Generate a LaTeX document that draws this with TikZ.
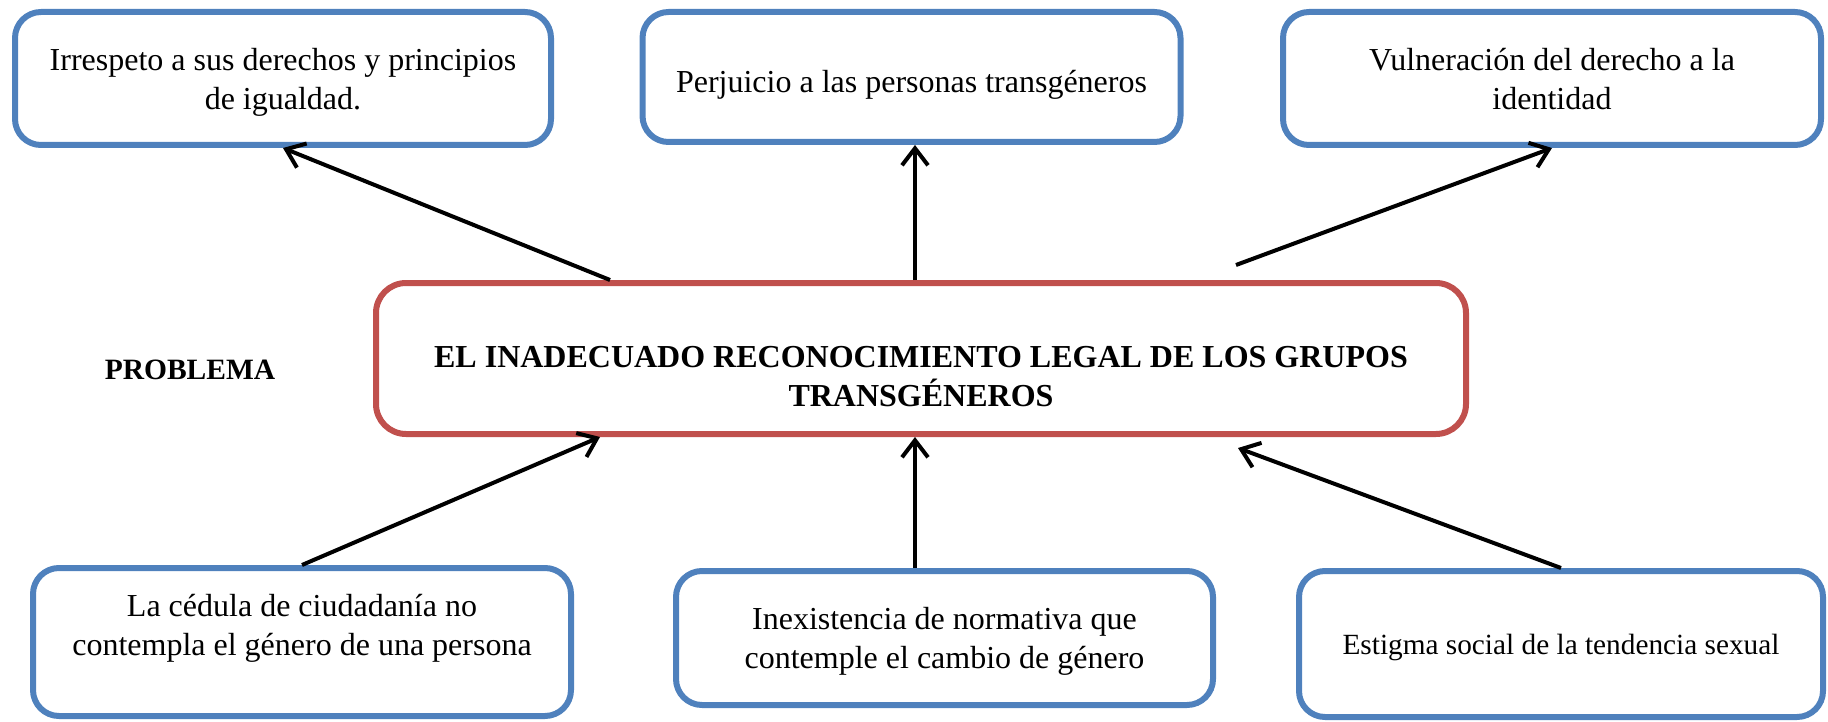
\documentclass[tikz,border=0pt]{standalone}
\usepackage{fontspec}
\setmainfont{Liberation Serif}
\usetikzlibrary{arrows.meta}
\definecolor{boxblue}{HTML}{4F81BD}
\definecolor{boxred}{HTML}{C0504D}
\newcommand{\lowtext}[2]{\raisebox{#1}[\height][\depth]{\begin{tabular}{@{}c@{}}#2\end{tabular}}}
\begin{document}
\begin{tikzpicture}[x=1pt,y=-1pt,
  box/.style={draw=boxblue, line width=6pt, rounded corners=26pt, align=center,
    font=\fontsize{32}{39}\selectfont, inner sep=0pt},
  mainbox/.style={draw=boxred, line width=6pt, rounded corners=30pt, align=center,
    font=\fontsize{32}{39}\selectfont\bfseries, inner sep=0pt},
  arr/.style={-{Straight Barb[length=17pt,width=26pt,line width=4pt]}, line width=4pt}]
\useasboundingbox (0,0) rectangle (1828,722);

\node[box, minimum width=536pt, minimum height=133pt] (tl) at (283,78.5)
  {\lowtext{-4pt}{Irrespeto a sus derechos y principios\\de igualdad.}};
\node[box, minimum width=538pt, minimum height=130pt] (tm) at (911.5,77)
  {\lowtext{-8pt}{Perjuicio a las personas transgéneros}};
\node[box, minimum width=538pt, minimum height=133pt] (tr) at (1552,78.5)
  {\lowtext{-4pt}{Vulneración del derecho a la\\identidad}};

\node[mainbox, minimum width=1090pt, minimum height=151pt] (c) at (921,358.5)
  {\lowtext{-21pt}{EL INADECUADO RECONOCIMIENTO LEGAL DE LOS GRUPOS\\TRANSGÉNEROS}};
\node[font=\fontsize{29.5}{36}\selectfont\bfseries] (p) at (190,370) {PROBLEMA};

\node[box, minimum width=538pt, minimum height=148pt] (bl) at (302,642)
  {\lowtext{14pt}{La cédula de ciudadanía no\\contempla el género de una persona}};
\node[box, minimum width=537pt, minimum height=134pt] (bm) at (944.5,638)
  {\lowtext{-3pt}{Inexistencia de normativa que\\contemple el cambio de género}};
\node[box, minimum width=524pt, minimum height=146pt, font=\fontsize{29.3}{36}\selectfont] (br) at (1561,644)
  {\lowtext{-3pt}{Estigma social de la tendencia sexual}};

\draw[arr] ([xshift=-311pt]c.north) -- (tl.south);
\draw[arr] ([xshift=-6pt]c.north) -- ([xshift=3.5pt]tm.south);
\draw[arr] ([xshift=315pt,yshift=15pt]c.north) -- (tr.south);
\draw[arr] (bl.north) -- ([xshift=-321pt]c.south);
\draw[arr] ([xshift=-29.5pt]bm.north) -- ([xshift=-6pt]c.south);
\draw[arr] (br.north) -- ([xshift=317pt,yshift=-11pt]c.south);
\end{tikzpicture}
\end{document}
